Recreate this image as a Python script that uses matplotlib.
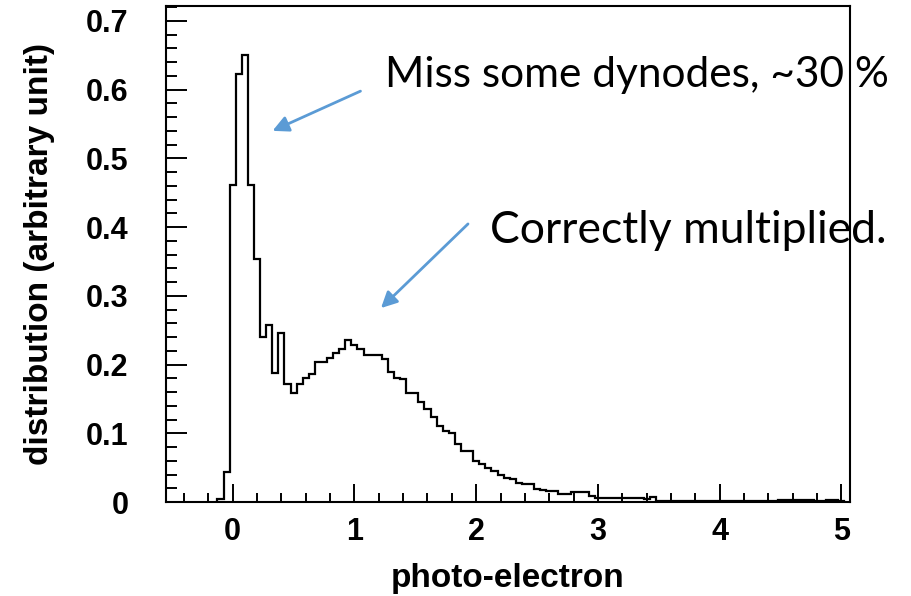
#draws the single photo-electron spectrum of the PMT
#as a step histogram with two notes pointing at the peaks

import numpy as np
import matplotlib.pyplot as plt
from matplotlib.ticker import MultipleLocator, FuncFormatter

# histogram binning (bin centres run from -0.10 to 5.00)
first_center = -0.10
bin_width = 0.05

# bin contents, distribution (arbitrary unit)
counts = [
    0.005, 0.044, 0.461, 0.622, 0.650, 0.461, 0.353, 0.240, 0.257, 0.188,   # -0.10 .. 0.35
    0.246, 0.171, 0.158, 0.171, 0.181, 0.186, 0.203, 0.203, 0.210, 0.217,   # 0.40 .. 0.85
    0.222, 0.235, 0.229, 0.222, 0.214, 0.214, 0.214, 0.208, 0.189, 0.181,   # 0.90 .. 1.35
    0.179, 0.158, 0.158, 0.145, 0.135, 0.123, 0.111, 0.104, 0.101, 0.084,   # 1.40 .. 1.85
    0.074, 0.074, 0.060, 0.055, 0.050, 0.045, 0.040, 0.035, 0.033, 0.028,   # 1.90 .. 2.35
    0.026, 0.026, 0.019, 0.018, 0.016, 0.016, 0.011, 0.011, 0.014, 0.014,   # 2.40 .. 2.85
    0.014, 0.009, 0.006, 0.006, 0.006, 0.006, 0.006, 0.006, 0.006, 0.006,   # 2.90 .. 3.35
    0.004, 0.007,                                                           # 3.40 .. 3.45
    0.0018, 0.0018, 0.0018, 0.0018, 0.0018, 0.0018, 0.0018, 0.0018, 0.0018, 0.0018,  # 3.50 .. 3.95
    0.0018, 0.0018, 0.0018, 0.0018, 0.0018, 0.0018, 0.0018, 0.0018, 0.0018, 0.0018,  # 4.00 .. 4.45
    0.0035, 0.0035, 0.0035, 0.0035, 0.0035, 0.0035,                         # 4.50 .. 4.75
    0.0018, 0.0018, 0.0035, 0.0035, 0.0018,                                 # 4.80 .. 5.00
]

x_ticks = [0, 1, 2, 3, 4, 5]
y_ticks = [0, 0.1, 0.2, 0.3, 0.4, 0.5, 0.6, 0.7]

note_missed = 'Miss some dynodes, ~30 %'
note_good = 'Correctly multiplied.'

edges = first_center - bin_width / 2 + bin_width * np.arange(len(counts) + 1)

fig = plt.figure(figsize=(9.11, 5.96), dpi=100)
ax = fig.add_axes([0.1822, 0.1577, 0.7508, 0.8322])

ax.stairs(counts, edges, color='black', linewidth=1.6)

ax.set_xlim(-0.548, 5.07)
ax.set_ylim(0, 0.7215)

#root style frame: ticks inside, only bottom and left
for side in ax.spines.values():
    side.set_linewidth(1.5)

ax.set_xticks(x_ticks)
ax.set_yticks(y_ticks)
ax.xaxis.set_minor_locator(MultipleLocator(0.2))
ax.yaxis.set_minor_locator(MultipleLocator(0.02))
ax.yaxis.set_major_formatter(FuncFormatter(lambda v, p: '0' if v == 0 else '%.1f' % v))

ax.tick_params(axis='both', which='both', direction='in', width=1.4,
               top=False, right=False)
ax.tick_params(axis='y', which='major', length=15, pad=27)
ax.tick_params(axis='y', which='minor', length=8)
ax.tick_params(axis='x', which='major', length=13, pad=11)
ax.tick_params(axis='x', which='minor', length=6.5)

for lab in ax.get_xticklabels() + ax.get_yticklabels():
    lab.set_family('Liberation Sans')
    lab.set_fontweight('bold')
    lab.set_fontsize(22)

ax.set_xlabel('photo-electron', family='Liberation Sans', fontweight='bold',
              fontsize=24, labelpad=11)
ax.set_ylabel('distribution (arbitrary unit)', family='Liberation Sans',
              fontweight='bold', fontsize=24, labelpad=22)

#notes with blue arrows
arrow_style = dict(arrowstyle='-|>', color='#5B9BD5', lw=2, mutation_scale=24)

ax.annotate('', xy=(270 / 911, 1 - 132 / 596), xycoords='figure fraction',
            xytext=(363 / 911, 1 - 90 / 596), textcoords='figure fraction',
            arrowprops=arrow_style)
ax.annotate('', xy=(379 / 911, 1 - 310 / 596), xycoords='figure fraction',
            xytext=(470 / 911, 1 - 222 / 596), textcoords='figure fraction',
            arrowprops=arrow_style)

fig.text(385 / 911, 1 - 75 / 596, note_missed, family='Lato', fontsize=30.5,
         ha='left', va='center')
fig.text(490 / 911, 1 - 230 / 596, note_good, family='Lato', fontsize=32,
         ha='left', va='center')

fig.savefig('out.png', dpi=100)
